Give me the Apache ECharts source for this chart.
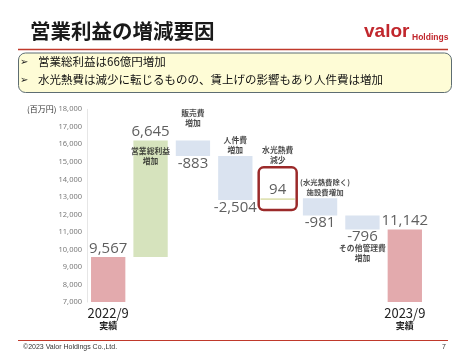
<!DOCTYPE html>
<html><head><meta charset="utf-8">
<script src="https://cdn.jsdelivr.net/npm/echarts@6/dist/echarts.min.js"></script>
<style>html,body{margin:0;padding:0;background:#fff}#c{width:474px;height:355px}</style>
</head><body><div id="c"></div>
<script>
// ---- data ----
var categories = ['2022/9\n実績', '営業総利益増加', '販売費増加', '人件費増加', '水光熱費減少', '施設費増加', 'その他管理費増加', '2023/9\n実績'];
var changes = [9567, 6645, -883, -2504, 94, -981, -796, 11142];
var isTotal = [true, false, false, false, false, false, false, true];
var descriptions = ['', '営業総利益\n増加', '販売費\n増加', '人件費\n増加', '水光熱費\n減少', '(水光熱費除く)\n施設費増加', 'その他管理費\n増加', ''];
var yTicks = {min: 7000, max: 18000, interval: 1000};
var bullets = ['営業総利益は66億円増加', '水光熱費は減少に転じるものの、賃上げの影響もあり人件費は増加'];

// ---- derived waterfall ----
var base = [], vis = [], tops = [], bottoms = [];
var run = 0;
for (var i = 0; i < changes.length; i++) {
  var lo, hi;
  if (isTotal[i]) { lo = yTicks.min; hi = changes[i]; run = changes[i]; }
  else { var nr = run + changes[i]; lo = Math.min(run, nr); hi = Math.max(run, nr); run = nr; }
  base.push(lo); vis.push(hi - lo); tops.push(hi); bottoms.push(lo);
}
var colors = ['#e3aaad', '#d6e3bd', '#dae3f0', '#dae3f0', '#dfe2b4', '#dae3f0', '#dae3f0', '#e3aaad'];
function fmt(v){ return (v<0?'-':'') + Math.abs(v).toString().replace(/\B(?=(\d{3})+(?!\d))/g, ','); }

// description label placement (anchor, side, distance, x-offset, size)
var descPos = [null, ['top','bottom',5,0,7.8], ['top','top',13,0,7.8], ['top','top',1,0,7.8], ['top','top',33,0,7.8], ['top','top',1,5,7.4], ['bottom','bottom',14,0,7.8], null];

var chart = echarts.init(document.getElementById('c'), null, {renderer: 'canvas'});
var jp = '"Noto Sans CJK JP", "Noto Sans", sans-serif';

var option = {
  animation: false,
  grid: {left: 87, right: 48, top: 109.3, bottom: 53, containLabel: false},
  xAxis: {
    type: 'category', data: categories,
    axisLine: {show: false}, axisTick: {show: false},
    axisLabel: {
      interval: 0, margin: 5,
      formatter: function (v, idx) {
        if (!isTotal[idx]) return '';
        var p = v.split('\n');
        return '{a|' + p[0] + '}\n{b|' + p[1] + '}';
      },
      rich: {
        a: {fontSize: 13, color: '#222', fontFamily: jp, lineHeight: 13},
        b: {fontSize: 9, color: '#222', fontWeight: 'bold', fontFamily: jp, lineHeight: 11}
      }
    }
  },
  yAxis: {
    type: 'value', min: yTicks.min, max: yTicks.max, interval: yTicks.interval,
    axisLine: {show: true, lineStyle: {color: '#e6e6e6', width: 1}},
    axisTick: {show: false},
    splitLine: {show: false},
    axisLabel: {fontSize: 7.5, color: '#7a7a7a', margin: 5, fontFamily: '"Noto Sans", sans-serif',
      formatter: function(v){ return fmt(v); }}
  },
  series: [
    {type: 'bar', stack: 'w', data: base, itemStyle: {color: 'transparent'}, barWidth: '81%', silent: true},
    {type: 'bar', stack: 'w', barWidth: '81%',
     data: vis.map(function (v, i) {
       return {value: v, itemStyle: {color: colors[i]},
         label: {show: true, position: (changes[i] < 0 ? 'bottom' : 'top'), distance: (changes[i] < 0 ? 0 : 1),
           formatter: fmt(changes[i]), fontSize: 15, color: '#5f5f5f', fontFamily: '"Open Sans", "Noto Sans", sans-serif'}};
     })},
    {type: 'scatter', symbolSize: 0, silent: true, z: 5,
     data: descriptions.map(function (d, i) {
       if (!descPos[i]) return null;
       var yv = descPos[i][0] === 'top' ? tops[i] : bottoms[i];
       return {value: [i, yv], label: {show: true, position: descPos[i][1], distance: descPos[i][2], offset: [descPos[i][3], 0], formatter: d,
         fontSize: descPos[i][4], lineHeight: 10, color: '#1a1a1a', fontWeight: 'bold', fontFamily: jp, align: 'center'}};
     }).filter(function(x){return x;})
    }
  ],
  graphic: [
    {type: 'text', left: 30, top: 21, style: {text: '営業利益の増減要因', fontSize: 20.5, fontWeight: 'bold', fill: '#1a1a1a', fontFamily: jp}},
    {type: 'text', left: 364, top: 22, style: {text: 'valor', fontSize: 19, fontWeight: 'bold', fill: '#c1272d', fontFamily: '"Liberation Sans", sans-serif'}},
    {type: 'text', left: 412, top: 33, style: {text: 'Holdings', fontSize: 8.5, fontWeight: 'bold', fill: '#c1272d', fontFamily: '"Liberation Sans", sans-serif'}},
    {type: 'line', shape: {x1: 18, y1: 49.5, x2: 448, y2: 49.5}, style: {stroke: '#c0392b', lineWidth: 1.5}},
    {type: 'rect', shape: {x: 18.5, y: 53, width: 433, height: 39.5, r: 7}, style: {fill: '#fefcd6', stroke: '#5d6d72', lineWidth: 1}},
    {type: 'text', left: 20, top: 57, style: {text: '➢', fontSize: 10, fill: '#222', fontFamily: '"DejaVu Sans"'}},
    {type: 'text', left: 20, top: 75, style: {text: '➢', fontSize: 10, fill: '#222', fontFamily: '"DejaVu Sans"'}},
    {type: 'text', left: 38, top: 56, style: {text: bullets[0], fontSize: 11.5, fill: '#111', fontFamily: jp}},
    {type: 'text', left: 38, top: 74, style: {text: bullets[1], fontSize: 11.5, fill: '#111', fontFamily: jp}},
    {type: 'text', left: 27, top: 105, style: {text: '(百万円)', fontSize: 8, fill: '#333', fontFamily: jp}},
    {type: 'line', shape: {x1: 18, y1: 340.5, x2: 448, y2: 340.5}, style: {stroke: '#c0392b', lineWidth: 1}},
    {type: 'text', left: 23, top: 344, style: {text: '©2023 Valor Holdings Co.,Ltd.', fontSize: 7, fill: '#333', fontFamily: '"Liberation Sans", sans-serif'}},
    {type: 'text', left: 442, top: 344, style: {text: '7', fontSize: 7, fill: '#333', fontFamily: '"Liberation Sans", sans-serif'}}
  ]
};
chart.setOption(option);

// red rounded frame around the utility-cost bar, placed via the chart's scales
var hi = 4;
var pTop = chart.convertToPixel({gridIndex: 0}, [hi, tops[hi]]);
var pBot = chart.convertToPixel({gridIndex: 0}, [hi, bottoms[hi]]);
var g = option.graphic.slice();
g.push({type: 'rect', shape: {x: pTop[0] - 19, y: pTop[1] - 31, width: 38, height: (pBot[1] - pTop[1]) + 41, r: 5},
  style: {fill: 'transparent', stroke: '#9b2a2a', lineWidth: 2.5}, z: 10});
chart.setOption({graphic: g}, {replaceMerge: ['graphic']});
</script>
</body></html>
